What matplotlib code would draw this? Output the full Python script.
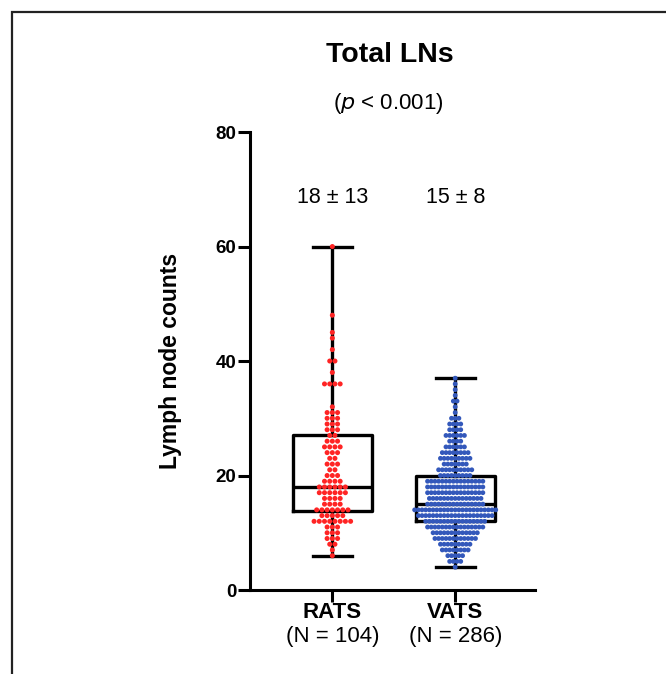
import matplotlib
matplotlib.use("Agg")
import matplotlib.pyplot as plt
import numpy as np
from matplotlib.transforms import blended_transform_factory
from matplotlib.patches import Rectangle

plt.rcParams['font.family'] = ['Liberation Sans', 'DejaVu Sans']

groups = ["RATS", "VATS"]
group_n = ["(N = 104)", "(N = 286)"]
summary = ["18 \u00b1 13", "15 \u00b1 8"]

# value -> number of patients
rats_values = [6, 7, 8, 9, 10, 11, 12, 13, 14, 15, 16, 17, 18, 19, 20, 21, 22, 23, 24, 25,
               26, 27, 28, 29, 30, 31, 32, 36, 38, 40, 42, 44, 45, 48, 60]
rats_counts = [1, 1, 2, 3, 3, 3, 8, 5, 7, 4, 4, 6, 6, 4, 3, 2, 3, 2, 3, 4,
               3, 2, 3, 3, 3, 3, 1, 4, 1, 2, 1, 1, 1, 1, 1]
vats_values = [4, 5, 6, 7, 8, 9, 10, 11, 12, 13, 14, 15, 16, 17, 18, 19, 20, 21, 22, 23,
               24, 25, 26, 27, 28, 29, 30, 31, 32, 33, 34, 35, 36, 37]
vats_counts = [1, 4, 5, 8, 9, 12, 13, 16, 17, 21, 23, 16, 15, 16, 16, 16, 9, 10, 7, 9,
               8, 6, 4, 6, 4, 4, 3, 1, 1, 2, 1, 1, 1, 1]

yticks = [0, 20, 40, 60, 80]

rats = np.repeat(rats_values, rats_counts)
vats = np.repeat(vats_values, vats_counts)

fig = plt.figure(figsize=(6.66, 6.74), dpi=100)
ax = fig.add_axes([0.3754, 0.1246, 0.428, 0.6795])
ax.set_xlim(0.33, 2.65)
ax.set_ylim(0, 80)

lw = 2.4
ax.boxplot([rats, vats], positions=[1, 2], widths=0.645, whis=(0, 100),
           capwidths=0.32, showfliers=False, patch_artist=False,
           boxprops=dict(color='black', linewidth=lw),
           whiskerprops=dict(color='black', linewidth=lw),
           capprops=dict(color='black', linewidth=lw),
           medianprops=dict(color='black', linewidth=lw), zorder=2)

def dots(values, counts, xc, spacing):
    xs, ys = [], []
    for v, c in zip(values, counts):
        offs = (np.arange(c) - (c - 1) / 2.0) * spacing
        xs.extend(xc + offs)
        ys.extend([v] * c)
    return np.array(xs), np.array(ys)

xr, yr = dots(rats_values, rats_counts, 1, 0.0425)
xv, yv = dots(vats_values, vats_counts, 2, 0.0300)
ax.scatter(xr, yr, s=13, color='#ff2424', edgecolors='none', zorder=3)
ax.scatter(xv, yv, s=12, color='#3358bb', edgecolors='none', zorder=3)

for s in ['top', 'right']:
    ax.spines[s].set_visible(False)
for s in ['left', 'bottom']:
    ax.spines[s].set_linewidth(2.2)
ax.set_yticks(yticks)
ax.set_yticklabels([str(t) for t in yticks], fontweight='bold', fontsize=13.5)
ax.set_xticks([1, 2])
ax.set_xticklabels(['', ''])
ax.tick_params(axis='both', length=8.5, width=2.2, pad=1.5)

fig.text(170 / 666, 0.5 * (0.1246 * 2 + 0.6795), "Lymph node counts", rotation=90,
         ha='center', va='center', fontsize=16.5, fontweight='bold')

tr = blended_transform_factory(ax.transData, ax.transAxes)
for i, (g, n) in enumerate(zip(groups, group_n)):
    ax.text(i + 1, -0.050, g, transform=tr, ha='center', va='center',
            fontsize=16, fontweight='bold')
    ax.text(i + 1, -0.102, n, transform=tr, ha='center', va='center', fontsize=16)
    ax.text(i + 1, 68.6, summary[i], ha='center', va='center', fontsize=15.5)

fig.text(0.5856, 0.918, "Total LNs", ha='center', va='center', fontsize=20.5, fontweight='bold')
fig.text(0.5826, 0.847, r"($\it{p}$ < 0.001)", ha='center', va='center', fontsize=16)

fig.patches.append(Rectangle((12/666, -0.1), 1.2, (674-12)/674 + 0.1, transform=fig.transFigure,
                             fill=False, edgecolor='#222222', linewidth=1.6))

fig.savefig("out.png", dpi=100)
